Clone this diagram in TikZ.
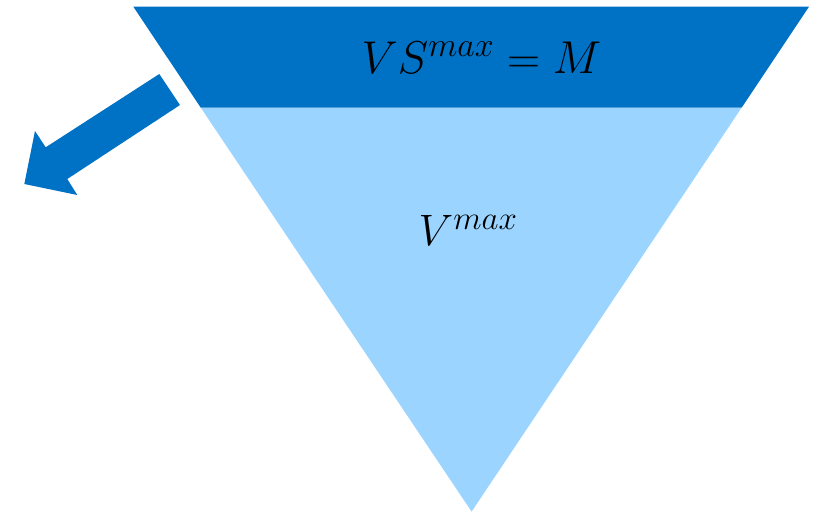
\documentclass[tikz,border=0pt]{standalone}
\usepackage{fix-cm}
\DeclareMathSizes{46}{46}{34}{26}
\DeclareMathSizes{44}{44}{33}{25}
\definecolor{darkband}{RGB}{0,114,198}
\definecolor{lightfill}{RGB}{155,213,255}
\begin{document}
\begin{tikzpicture}[x=1pt,y=-1pt,
  lbl/.style={inner sep=0pt,anchor=base,text=black}]
\useasboundingbox (0,0) rectangle (813,512);
% light triangle
\fill[lightfill] (200.8,107.7) -- (741.6,107.7) -- (471.6,511.6) -- cycle;
% dark band
\fill[darkband] (133.3,6.7) -- (809,6.7) -- (741.6,107.7) -- (200.8,107.7) -- cycle;
% block arrow
\fill[darkband] (159.3,74) -- (180,105) -- (67.3,179) -- (77.3,195) -- (24.3,184)
  -- (35,131) -- (45.7,147.3) -- cycle;
\node[lbl,font=\fontsize{46}{55}\selectfont] (top) at (481.5,73) {$VS^{max}=M$};
\node[lbl,font=\fontsize{44}{53}\selectfont] (mid) at (468,245) {$V^{max}$};
\end{tikzpicture}
\end{document}
